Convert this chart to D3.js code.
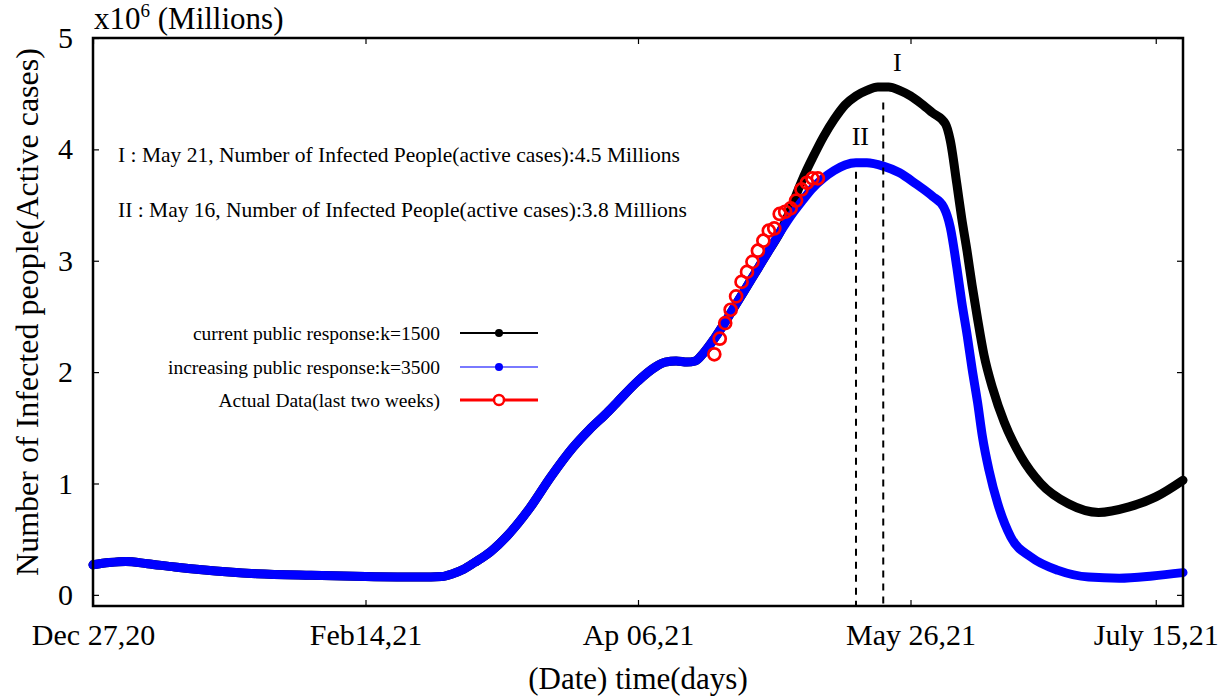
<!DOCTYPE html>
<html>
<head>
<meta charset="utf-8">
<script src="https://cdn.jsdelivr.net/npm/d3@7"></script>
<style>
  html, body { margin: 0; padding: 0; background: #fff; }
  svg { display: block; }
  text { font-family: "Liberation Serif", "Times New Roman", serif; fill: #000; }
</style>
</head>
<body>
<svg id="chart" width="1223" height="696"></svg>
<script>
// ---------------- DATA ----------------
// x axis: days since Dec 27, 2020
const xTickDays = [0, 50, 100, 150, 195];
const xTickLabels = ["Dec 27,20", "Feb14,21", "Ap 06,21", "May 26,21", "July 15,21"];
const yTickValues = [0, 1, 2, 3, 4, 5];

// increasing public response k=3500 (blue), millions
const blueDays = [0, 3, 6, 10, 15, 20, 25, 30, 40, 50, 60, 64, 66, 68, 70, 73, 76, 80, 84, 88, 91, 94, 96, 100, 103, 105, 107, 109, 110.5,
  112, 114, 116, 118, 120, 122, 124, 126, 128, 130, 132, 134, 136, 138, 140, 142, 145, 148, 151, 154, 156.1,
  157.3, 158.5, 159.4, 160.4, 161.3, 162.3, 163.2, 164.4, 166, 168.4, 172.1, 177.1, 182.7, 188.3, 194.4, 200];
const blueValues = [0.27, 0.29, 0.30, 0.28, 0.25, 0.225, 0.205, 0.19, 0.175, 0.165, 0.16, 0.165, 0.19, 0.23, 0.29, 0.39, 0.53, 0.77, 1.06, 1.32, 1.48, 1.62, 1.72, 1.92, 2.04, 2.09, 2.10, 2.09, 2.10,
  2.17, 2.30, 2.45, 2.61, 2.77, 2.93, 3.09, 3.25, 3.40, 3.53, 3.65, 3.74, 3.81, 3.86, 3.88, 3.88, 3.85, 3.79, 3.69, 3.58, 3.48,
  3.30, 2.94, 2.63, 2.33, 2.03, 1.73, 1.42, 1.12, 0.82, 0.52, 0.34, 0.22, 0.16, 0.15, 0.17, 0.20];

// current public response k=1500 (black), millions
const blackDays = [0, 3, 6, 10, 15, 20, 25, 30, 40, 50, 60, 64, 66, 68, 70, 73, 76, 80, 84, 88, 91, 94, 96, 100, 103, 105, 107, 109, 110.5,
  112, 114, 116, 118, 120, 122, 124, 126, 128, 129, 130, 131, 132, 134, 136, 138, 140, 142, 144, 146, 148, 150, 152, 154, 156.4,
  157.3, 158.5, 159.4, 160.4, 161.3, 162.3, 163.5, 165.1, 167.2, 170.3, 173.9, 178.9, 184.5, 190.1, 195, 200];
const blackValues = [0.27, 0.29, 0.30, 0.28, 0.25, 0.225, 0.205, 0.19, 0.175, 0.165, 0.16, 0.165, 0.19, 0.23, 0.29, 0.39, 0.53, 0.77, 1.06, 1.32, 1.48, 1.62, 1.72, 1.92, 2.04, 2.09, 2.10, 2.09, 2.10,
  2.17, 2.30, 2.45, 2.61, 2.77, 2.93, 3.09, 3.25, 3.46, 3.59, 3.71, 3.82, 3.92, 4.11, 4.27, 4.40, 4.48, 4.53, 4.56, 4.56, 4.53, 4.48, 4.41, 4.33, 4.23,
  4.08, 3.69, 3.38, 3.08, 2.78, 2.48, 2.15, 1.85, 1.55, 1.24, 1.00, 0.82, 0.74, 0.79, 0.88, 1.03];

// actual data (last two weeks), red circles
const actualDays = [114, 115, 116, 117, 118, 119, 120, 121, 122, 123, 124, 125, 126, 127, 128, 129, 130, 131, 132, 133];
const actualValues = [2.16, 2.30, 2.44, 2.56, 2.68, 2.81, 2.90, 2.99, 3.09, 3.18, 3.27, 3.29, 3.42, 3.44, 3.47, 3.54, 3.64, 3.70, 3.74, 3.74];

// peak markers
const peakLabels = ["I", "II"];
const peakDays = [145, 140];
const peakLineTops = [4.42, 3.80];
const peakLabelValues = [4.78, 4.12];
const peakLabelDays = [147.6, 140.8];

const annotationTexts = [
  "I : May 21, Number of Infected People(active cases):4.5 Millions",
  "II : May 16, Number of Infected People(active cases):3.8 Millions"
];
const legendLabels = ["current public response:k=1500", "increasing public response:k=3500", "Actual Data(last two weeks)"];

// ---------------- CHART ----------------
const svg = d3.select("#chart");
const L = 93, R = 1183, T = 38, B = 606;
const x = d3.scaleLinear().domain([0, 200]).range([L, R]);
const y = d3.scaleLinear().domain([-0.1, 5]).range([B, T]);

const tickFont = 30;

// axes (inside ticks)
const xAxis = d3.axisBottom(x).tickValues(xTickDays).tickFormat((d, i) => xTickLabels[i]).tickSize(-6).tickPadding(18);
const gx = svg.append("g").attr("transform", `translate(0,${B})`).call(xAxis);
gx.select(".domain").remove();
gx.selectAll("line").attr("stroke", "#000").attr("stroke-width", 1.2);
gx.selectAll("text").attr("font-size", tickFont).attr("font-family", "Liberation Serif, serif");

const gxTop = svg.append("g").attr("transform", `translate(0,${T})`)
  .call(d3.axisTop(x).tickValues(xTickDays).tickFormat("").tickSize(-6));
gxTop.select(".domain").remove();
gxTop.selectAll("line").attr("stroke", "#000").attr("stroke-width", 1.2);

const yAxis = d3.axisLeft(y).tickValues(yTickValues).tickFormat(d3.format("d")).tickSize(-6).tickPadding(20);
const gy = svg.append("g").attr("transform", `translate(${L},0)`).call(yAxis);
gy.select(".domain").remove();
gy.selectAll("line").attr("stroke", "#000").attr("stroke-width", 1.2);
gy.selectAll("text").attr("font-size", tickFont).attr("font-family", "Liberation Serif, serif");

const gyR = svg.append("g").attr("transform", `translate(${R},0)`)
  .call(d3.axisRight(y).tickValues(yTickValues).tickFormat("").tickSize(-6));
gyR.select(".domain").remove();
gyR.selectAll("line").attr("stroke", "#000").attr("stroke-width", 1.2);

// lines
const line = d3.line().x(d => x(d[0])).y(d => y(d[1])).curve(d3.curveMonotoneX);
const blackData = blackDays.map((d, i) => [d, blackValues[i]]);
const blueData = blueDays.map((d, i) => [d, blueValues[i]]);

svg.append("path").datum(blackData).attr("d", line)
  .attr("fill", "none").attr("stroke", "#000").attr("stroke-width", 9).attr("stroke-linejoin", "round").attr("stroke-linecap", "round");
svg.append("path").datum(blueData).attr("d", line)
  .attr("fill", "none").attr("stroke", "#0000ff").attr("stroke-width", 9).attr("stroke-linejoin", "round").attr("stroke-linecap", "round");

// actual data circles
svg.append("g").selectAll("circle").data(actualDays.map((d, i) => [d, actualValues[i]])).join("circle")
  .attr("cx", d => x(d[0])).attr("cy", d => y(d[1])).attr("r", 6)
  .attr("fill", "none").attr("stroke", "#ff0000").attr("stroke-width", 2.7);

// dashed peak lines
svg.append("g").selectAll("line").data(peakDays).join("line")
  .attr("x1", d => x(d)).attr("x2", d => x(d))
  .attr("y1", (d, i) => y(peakLineTops[i])).attr("y2", y(-0.1))
  .attr("stroke", "#000").attr("stroke-width", 2).attr("stroke-dasharray", "7,6");

svg.append("g").selectAll("text").data(peakLabels).join("text")
  .attr("x", (d, i) => x(peakLabelDays[i])).attr("y", (d, i) => y(peakLabelValues[i]))
  .attr("text-anchor", "middle").attr("dominant-baseline", "central")
  .attr("font-size", 26).text(d => d);

// frame
svg.append("rect").attr("x", L).attr("y", T).attr("width", R - L).attr("height", B - T)
  .attr("fill", "none").attr("stroke", "#000").attr("stroke-width", 2.5);

// annotations
svg.append("g").selectAll("text").data(annotationTexts).join("text")
  .attr("x", 118).attr("y", (d, i) => 162 + i * 55)
  .attr("font-size", 21.5).text(d => d);

// legend
const legendY = [333, 367, 400];
const lg = svg.append("g");
lg.selectAll("text").data(legendLabels).join("text")
  .attr("x", 440).attr("y", (d, i) => legendY[i]).attr("dominant-baseline", "central")
  .attr("text-anchor", "end").attr("font-size", 19.5).text(d => d);
const legendStroke = ["#000", "#4d4dff", "#ff0000"];
const legendWidth = [2.2, 1.6, 3];
lg.selectAll("line").data(legendLabels).join("line")
  .attr("x1", 460).attr("x2", 538).attr("y1", (d, i) => legendY[i]).attr("y2", (d, i) => legendY[i])
  .attr("stroke", (d, i) => legendStroke[i]).attr("stroke-width", (d, i) => legendWidth[i]);
lg.append("circle").attr("cx", 499).attr("cy", legendY[0]).attr("r", 4).attr("fill", "#000");
lg.append("circle").attr("cx", 499).attr("cy", legendY[1]).attr("r", 4).attr("fill", "#0000ff");
lg.append("circle").attr("cx", 499).attr("cy", legendY[2]).attr("r", 5).attr("fill", "#fff").attr("stroke", "#ff0000").attr("stroke-width", 2.5);

// axis titles
const yt = svg.append("text").attr("x", 94).attr("y", 29).attr("font-size", 31);
yt.append("tspan").text("x10");
yt.append("tspan").attr("dy", -12).attr("font-size", 19).text("6");
yt.append("tspan").attr("dy", 12).text(" (Millions)");

svg.append("text").attr("x", 638).attr("y", 689).attr("text-anchor", "middle")
  .attr("font-size", 31).text("(Date) time(days)");

svg.append("text").attr("transform", "translate(38,312) rotate(-90)").attr("text-anchor", "middle")
  .attr("font-size", 32).text("Number of Infected people(Active cases)");
</script>
</body>
</html>
